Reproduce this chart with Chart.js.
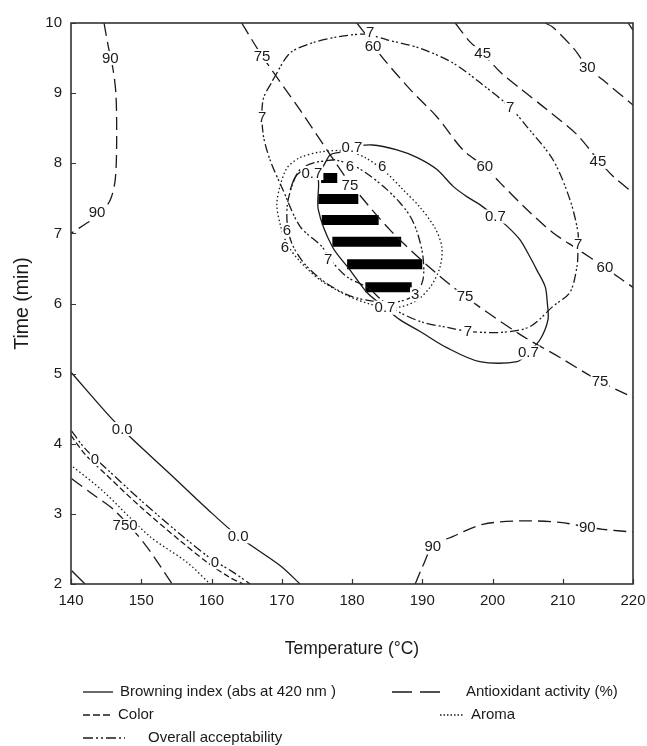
<!DOCTYPE html>
<html><head><meta charset="utf-8">
<script src="https://cdn.jsdelivr.net/npm/chart.js@4.4.1/dist/chart.umd.min.js"></script>
<style>html,body{margin:0;padding:0;background:#fff}#wrap{width:647px;height:746px;position:relative}</style>
</head><body><div id="wrap"><canvas id="c" width="647" height="746"></canvas></div>
<script>
// ---------- data (Temperature °C, Time min) ----------
const tempTicks = [140,150,160,170,180,190,200,210,220];
const timeTicks = [2,3,4,5,6,7,8,9,10];

// Browning index (solid)
const browning07 = [[171.2,7.62],[171.9,7.80],[173.0,7.89],[174.3,7.88],[175.2,7.77],[175.2,7.34],[177.2,6.81],[179.7,6.48],[182.1,6.16],[184.7,5.94],[186.8,5.77],[189.7,5.60],[193.5,5.37],[198.2,5.17],[203.5,5.17],[205.1,5.30],[206.8,5.49],[207.9,5.77],[207.8,6.01],[207.5,6.24],[206.3,6.48],[205.3,6.67],[203.9,6.91],[202.1,7.10],[200.4,7.24],[198.2,7.41],[196.4,7.52],[194.4,7.67],[192.1,7.91],[189.3,8.08],[186.4,8.19],[182.9,8.26],[180.0,8.23],[178.3,8.16],[176.9,8.12],[176.2,8.01],[175.6,7.90]];
const browning00 = [[140,5.02],[145.6,4.38],[148.8,4.06],[154.1,3.57],[159.4,3.07],[163.8,2.68],[169.8,2.26],[172.6,2.0]];
const browningCorner = [[140.1,2.19],[142,2.0]];

// Antioxidant activity (long dash)
const ao90Left = [[144.7,10],[145.3,9.67],[146.0,9.33],[146.4,8.98],[146.5,8.33],[146.3,7.77],[145.6,7.48],[144.1,7.27],[142.0,7.13],[140.0,7.0]];
const ao75 = [[164.3,10],[167.2,9.53],[172.6,8.76],[176.9,8.12],[179.7,7.72],[185.4,7.05],[191.1,6.51],[196.1,6.1],[203.9,5.56],[209.6,5.23],[215.3,4.89],[220,4.66]];
const ao60 = [[180.7,10],[182.3,9.79],[184.4,9.5],[188.3,9.05],[192.1,8.66],[195.8,8.19],[198.9,7.95],[201.1,7.72],[204.9,7.34],[208.6,7.01],[212.2,6.77],[216.0,6.51],[220,6.23]];
const ao45 = [[194.7,10],[196.8,9.73],[198.6,9.57],[201.1,9.3],[203.9,9.07],[207.8,8.76],[212.0,8.41],[215.0,8.05],[217.2,7.81],[220,7.58]];
const ao30 = [[207.5,10],[208.6,9.94],[211.7,9.62],[213.5,9.37],[215.7,9.19],[220,8.83]];
const aoCorner = [[219.3,10],[220,9.9]];
const ao90Right = [[189.0,2],[190.1,2.26],[191.5,2.54],[194.4,2.68],[198.6,2.85],[203.9,2.9],[209.6,2.88],[213.5,2.81],[215.7,2.78],[220,2.74]];
const ao75Low = [[140.1,3.5],[143.1,3.28],[146.3,3.04],[150.5,2.57],[154.4,2.0]];

// Color (short dash)
const colorLow = [[140.0,4.12],[142,3.85],[145,3.56],[150,3.09],[155.5,2.62],[159.5,2.30],[162.5,2.1],[164.5,2.0]];

// Aroma (dotted)
const aroma6 = [[179.0,8.19],[175.4,8.16],[172.6,8.08],[170.8,7.94],[169.8,7.69],[169.3,7.41],[169.8,7.12],[170.8,6.84],[172.6,6.60],[175.4,6.34],[179.0,6.13],[182.6,5.99],[186.1,5.94],[189.0,6.03],[191.1,6.23],[192.5,6.51],[192.8,6.80],[191.8,7.08],[189.7,7.37],[187.3,7.62],[184.7,7.88],[181.9,8.08],[179.0,8.19]];
const aromaLow = [[140.3,3.67],[144.6,3.32],[151.2,2.68],[156.5,2.31],[159.8,2.0]];

// Overall acceptability (dash-dot)
const oa7 = [[168.75,9.19],[171.17,9.57],[174.45,9.72],[177.86,9.80],[181.85,9.84],[184.98,9.76],[189.68,9.64],[194.38,9.43],[198.22,9.15],[202.49,8.80],[204.91,8.52],[208.61,8.05],[211.03,7.48],[212.17,7.01],[212.17,6.77],[212.03,6.53],[211.03,6.16],[208.61,5.96],[205.34,5.67],[201.49,5.59],[196.80,5.60],[193.52,5.66],[190.11,5.73],[186.83,5.87],[184.70,6.01],[182.14,6.23],[179.29,6.38],[176.87,6.63],[175.73,6.81],[172.60,7.10],[170.18,7.62],[168.33,8.05],[167.33,8.43],[167.33,8.90],[168.75,9.19]];
const oa6 = [[177.6,8.05],[174.7,8.01],[172.6,7.91],[171.5,7.69],[170.8,7.41],[170.8,7.12],[171.5,6.84],[173.3,6.56],[176.2,6.30],[179.7,6.11],[183.3,6.03],[186.8,6.03],[189.0,6.13],[190.1,6.34],[190.1,6.67],[189.3,7.01],[188.3,7.24],[186.8,7.44],[184.7,7.65],[182.3,7.84],[180.0,7.98],[177.6,8.05]];
const oaLow = [[140.1,4.18],[142.0,3.93],[145.1,3.64],[150.2,3.17],[155.9,2.68],[159.8,2.37],[162.9,2.18],[165.5,2.0]];

// Optimum (hatched) region: bars
const hatchTime  = [7.79,7.49,7.19,6.88,6.56,6.23];
const hatchStart = [175.6,175.2,175.7,177.2,179.3,181.9];
const hatchEnd   = [177.9,180.9,183.8,187.0,190.0,188.5];

// Contour labels
const labelText = ["90","90","75","75","75","75","60","60","60","45","45","30","90","90","750","0.0","0.0","0","0","7","7","7","7","7","7","0.7","0.7","0.7","0.7","0.7","6","6","6","6","3"];
const labelTemp = [145.6,143.7,167.2,179.7,196.1,215.3,183.0,198.9,216.0,198.6,215.0,213.5,191.5,213.5,147.7,147.3,163.8,143.4,160.5,182.6,167.2,202.5,212.2,196.5,176.6,174.3,180.0,200.4,184.7,205.1,170.75,170.46,179.7,184.3,189.0];
const labelTime = [9.5,7.3,9.53,7.69,6.1,4.89,9.66,7.95,6.51,9.57,8.02,9.37,2.54,2.81,2.83,4.21,2.68,3.78,2.31,9.86,8.65,8.80,6.84,5.60,6.63,7.86,8.23,7.24,5.94,5.30,7.05,6.80,7.95,7.95,6.13];

// Legend
const legendNames = ["Browning index (abs at 420 nm )","Antioxidant activity (%)","Color","Aroma","Overall acceptability"];

// ---------- styles ----------
const FONT = '"Liberation Sans", Arial, Helvetica, sans-serif';
const INK = '#1a1a1a';
const DASH = {
  browning: [],
  antioxidant: [13,6],
  color: [6,3],
  aroma: [1.5,2.5],
  overall: [9,3,2,2,2,3]
};
const toPts = a => a.map(p => ({x:p[0], y:p[1]}));
function contour(arr, kind, tension) {
  return {data: toPts(arr), showLine:true, pointRadius:0, borderColor:INK, borderWidth:1.3,
          borderDash:DASH[kind], tension: tension===undefined?0.3:tension, fill:false};
}
const datasets = [
  contour(browning07,'browning'), contour(browning00,'browning'), contour(browningCorner,'browning',0),
  contour(ao90Left,'antioxidant'), contour(ao75,'antioxidant'), contour(ao60,'antioxidant'),
  contour(ao45,'antioxidant'), contour(ao30,'antioxidant'), contour(aoCorner,'antioxidant',0),
  contour(ao90Right,'antioxidant'), contour(ao75Low,'antioxidant'),
  contour(colorLow,'color'),
  contour(aroma6,'aroma'), contour(aromaLow,'aroma'),
  contour(oa7,'overall'), contour(oa6,'overall'), contour(oaLow,'overall')
];
hatchTime.forEach((t,i) => {
  datasets.push({data:[{x:hatchStart[i],y:t},{x:hatchEnd[i],y:t}], showLine:true, pointRadius:0,
    borderColor:'#000', borderWidth:10, borderCapStyle:'butt', tension:0});
});

const labelPlugin = {
  id:'contourLabels',
  afterDatasetsDraw(chart) {
    const {ctx, scales:{x,y}} = chart;
    ctx.save();
    ctx.font = '15px ' + FONT;
    ctx.textAlign = 'center'; ctx.textBaseline = 'middle';
    labelText.forEach((t,i) => {
      const px = x.getPixelForValue(labelTemp[i]), py = y.getPixelForValue(labelTime[i]);
      const w = ctx.measureText(t).width;
      ctx.fillStyle = '#fff';
      ctx.fillRect(px - w/2 - 1, py - 7, w + 2, 14);
      ctx.fillStyle = INK;
      ctx.fillText(t, px, py + 0.5);
    });
    ctx.restore();
  }
};

const framePlugin = {
  id:'frame',
  afterDraw(chart) {
    const {ctx, chartArea:{left,right,top,bottom}, scales:{x,y}} = chart;
    ctx.save();
    ctx.strokeStyle = '#333'; ctx.lineWidth = 1.6; ctx.setLineDash([]);
    ctx.strokeRect(left, top, right-left, bottom-top);
    ctx.lineWidth = 1.2;
    ctx.beginPath();
    tempTicks.forEach(v => { const p = Math.round(x.getPixelForValue(v))+0.5; ctx.moveTo(p,bottom); ctx.lineTo(p,bottom-5); });
    timeTicks.forEach(v => { const p = Math.round(y.getPixelForValue(v))+0.5; ctx.moveTo(left,p); ctx.lineTo(left+5,p); });
    ctx.stroke();

    // legend
    ctx.font = '15px ' + FONT;
    ctx.fillStyle = INK; ctx.strokeStyle = INK; ctx.lineWidth = 1.3;
    ctx.textAlign = 'left'; ctx.textBaseline = 'middle';
    const rows = [
      {x0:83, x1:113, y:692, dash:[], tx:120, t:legendNames[0]},
      {x0:392, x1:440, y:692, dash:[20,8], tx:466, t:legendNames[1]},
      {x0:83, x1:111, y:715, dash:[7,3], tx:118, t:legendNames[2]},
      {x0:440, x1:464, y:715, dash:[1.5,2], tx:471, t:legendNames[3]},
      {x0:83, x1:125, y:738, dash:[10,3,2,3,2,3], tx:148, t:legendNames[4]}
    ];
    rows.forEach(r => {
      ctx.setLineDash(r.dash);
      ctx.beginPath(); ctx.moveTo(r.x0, r.y); ctx.lineTo(r.x1, r.y); ctx.stroke();
      ctx.fillText(r.t, r.tx, r.y);
    });
    ctx.restore();
  }
};

new Chart(document.getElementById('c'), {
  type:'scatter',
  data:{datasets},
  options:{
    responsive:false, animation:false,
    layout:{padding:{left:0, top:23, right:14, bottom:86}},
    plugins:{legend:{display:false}, tooltip:{enabled:false}},
    scales:{
      x:{type:'linear', min:140, max:220,
         ticks:{stepSize:10, autoSkip:false, maxRotation:0, padding:8, color:INK, font:{family:FONT, size:15}},
         grid:{display:false, drawTicks:false}, border:{display:false},
         title:{display:true, text:'Temperature (°C)', color:INK, font:{family:FONT, size:17.5}, padding:{top:0,bottom:0}},
         afterFit(s){ s.height = 76; s.paddingLeft = 0; s.paddingRight = 0; }},
      y:{type:'linear', min:2, max:10,
         ticks:{stepSize:1, autoSkip:false, padding:9, color:INK, font:{family:FONT, size:15}},
         grid:{display:false, drawTicks:false}, border:{display:false},
         title:{display:true, text:'Time (min)', color:INK, font:{family:FONT, size:19.5}, padding:{top:11,bottom:0}},
         afterFit(s){ s.width = 71; s.paddingTop = 0; s.paddingBottom = 0; }}
    }
  },
  plugins:[labelPlugin, framePlugin]
});
</script></body></html>
